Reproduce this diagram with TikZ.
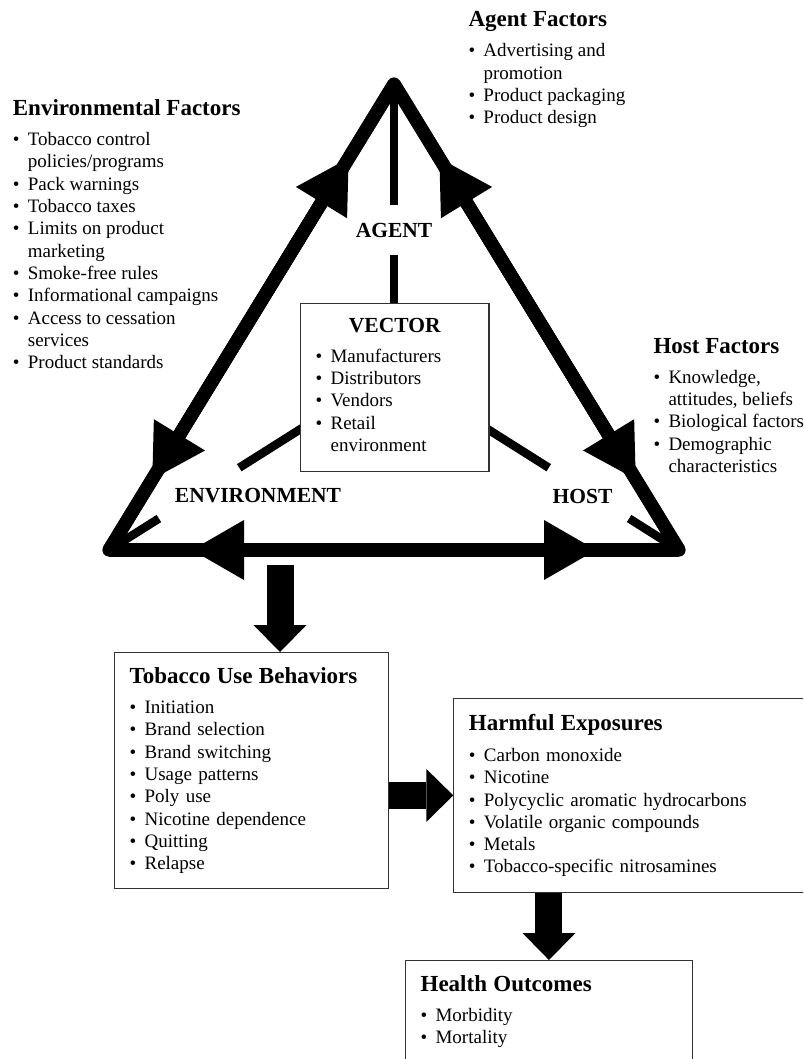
\documentclass[tikz,border=0pt]{standalone}
\usepackage{fontspec}
\setmainfont{Liberation Serif}
\usepackage{tikz}
\usetikzlibrary{positioning,arrows.meta,calc}
\newcommand{\bitem}{\makebox[15pt][l]{\textbullet}}
\newcommand{\bcont}{\hspace*{15pt}}
\newcommand{\hd}[1]{{\fontsize{23}{26}\selectfont\bfseries #1}}

\begin{document}
\begin{tikzpicture}[
      x=1pt, y=-1pt,
      txt/.style={align=left, inner sep=0pt, anchor=north west,
      font=\fontsize{19}{22.3}\selectfont},
      box/.style={draw=black!80, line width=1.2pt, fill=white, align=left,
      inner sep=15pt, anchor=north west, font=\fontsize{19}{22.3}\selectfont},
      edge/.style={draw=black!80, line width=1.2pt},
      lbl/.style={inner sep=0pt, font=\fontsize{21.5}{24}\selectfont\bfseries},
      tri/.style={line width=13.3pt, line join=round},
      arrhd/.style={line width=13.3pt,
      -{Triangle[length=52pt, width=60pt, line width=0pt]}},
      spk/.style={line width=8.5pt},
      fat/.style={line width=27pt,
      -{Triangle[length=27pt, width=53pt, line width=0pt]}},
    ]
    \useasboundingbox (0,0) rectangle (803,1059);
    \clip (0,0) rectangle (803,1059);

    % Triangle corners
    \coordinate (apex) at (394,84);
    \coordinate (lc) at (109,550);
    \coordinate (rc) at (679,550);
    \coordinate (hub) at (394,370);

    % Spokes to the vector
    \draw[spk] (apex) -- ($(apex)!0.423!(hub)$);
    \draw[spk] ($(apex)!0.598!(hub)$) -- (hub);
    \draw[spk] (lc) -- ($(lc)!0.175!(hub)$);
    \draw[spk] ($(lc)!0.457!(hub)$) -- (hub);
    \draw[spk] (rc) -- ($(rc)!0.175!(hub)$);
    \draw[spk] ($(rc)!0.457!(hub)$) -- (hub);

    \node[box, text width=158.3pt] (vector) at (300,303)
    {\makebox[158.3pt]{\fontsize{21.5}{24}\selectfont\bfseries VECTOR}\\[7pt]
    \bitem Manufacturers\\ \bitem Distributors\\ \bitem Vendors\\
    \bitem Retail\\ \bcont environment\\[-17pt]\mbox{}};

    \node[lbl] (agent) at (394,230) {AGENT};
    \node[lbl] (envlbl) at (258,496) {ENVIRONMENT};
    \node[lbl] (hostlbl) at (582.5,496) {HOST};

    \draw[tri] (apex) -- (rc) -- (lc) -- cycle;
    \draw[arrhd] (lc) -- ($(apex)!87pt!(lc)$);
    \draw[arrhd] (apex) -- ($(lc)!83pt!(apex)$);
    \draw[arrhd] (rc) -- ($(apex)!87pt!(rc)$);
    \draw[arrhd] (apex) -- ($(rc)!83pt!(apex)$);
    \draw[arrhd] (rc) -- ($(lc)!83pt!(rc)$);
    \draw[arrhd] (lc) -- ($(rc)!83pt!(lc)$);

    % Factor lists
    \node[txt] (agentf) at (468.3,11.5) {\hd{Agent Factors}\\[7.7pt]
    \bitem Advertising and\\ \bcont promotion\\ \bitem Product packaging\\
    \bitem Product design};
    \node[txt] (envf) at (12.7,99.5) {\hd{Environmental Factors}\\[7.7pt]
    \bitem Tobacco control\\ \bcont policies/programs\\ \bitem Pack warnings\\
    \bitem Tobacco taxes\\ \bitem Limits on product\\ \bcont marketing\\
    \bitem Smoke-free rules\\ \bitem Informational campaigns\\
    \bitem Access to cessation\\ \bcont services\\ \bitem Product standards};
    \node[txt] (hostf) at (653.3,338) {\hd{Host Factors}\\[7.7pt]
    \bitem Knowledge,\\ \bcont attitudes, beliefs\\ \bitem Biological factors\\
    \bitem Demographic\\ \bcont characteristics};

    % Outcome chain
    \node[box, text width=244pt] (tobacco) at (114,652)
    {\hd{Tobacco Use Behaviors}\\[7.7pt]
    \bitem Initiation\\ \bitem Brand selection\\ \bitem Brand switching\\
    \bitem Usage patterns\\ \bitem Poly use\\ \bitem Nicotine dependence\\
    \bitem Quitting\\ \bitem Relapse};
    \node[box, draw=none, text width=420pt] (harmful) at (453.3,698.3)
    {\hd{Harmful Exposures}\\[9pt]
    \bitem Carbon monoxide\\ \bitem Nicotine\\
    \bitem Polycyclic aromatic hydrocarbons\\ \bitem Volatile organic compounds\\
    \bitem Metals\\ \bitem Tobacco-specific nitrosamines};
    \draw[edge] (harmful.north east) -- (harmful.north west)
      -- (harmful.south west) -- (harmful.south east);
    \node[box, text width=256.7pt] (health) at (405,960)
    {\hd{Health Outcomes}\\[7.7pt]
    \bitem Morbidity\\ \bitem Mortality\\ \mbox{}};

    \coordinate (drop) at (280,565);
    \draw[fat] (drop) -- (drop |- tobacco.north);
    \draw[fat] (tobacco.east |- harmful.west) -- (harmful.west);
    \draw[fat] (health.north |- harmful.south) -- (health.north);
  \end{tikzpicture}
\end{document}
